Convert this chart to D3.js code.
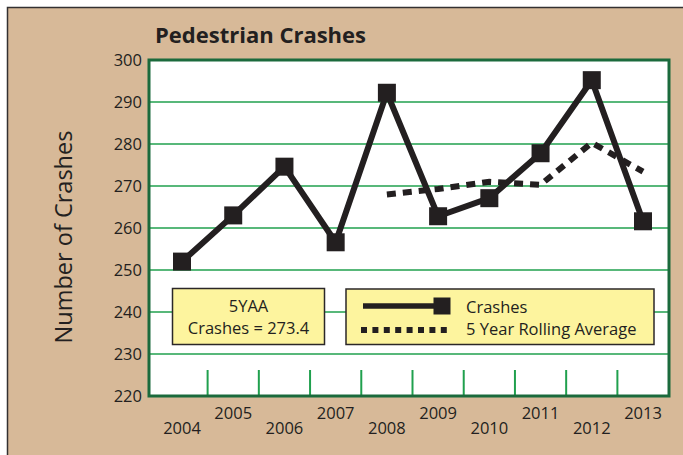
<!DOCTYPE html>
<html>
<head>
<meta charset="utf-8">
<script src="https://cdn.jsdelivr.net/npm/d3@7"></script>
<style>
  html, body { margin: 0; padding: 0; background: #ffffff; }
  svg { display: block; }
  text { font-family: "Open Sans", "Noto Sans", sans-serif; fill: #231f20; }
</style>
</head>
<body>
<svg id="chart" width="683" height="455"></svg>
<script>
// Annual pedestrian crash counts
const years = [2004, 2005, 2006, 2007, 2008, 2009, 2010, 2011, 2012, 2013];
const crashes = [252, 263, 274.6, 256.6, 292.2, 262.8, 267.1, 277.8, 295.2, 261.6];

// Five-year rolling average (from 2008 onward)
const rollingYears = [2008, 2009, 2010, 2011, 2012, 2013];
const rollingAvg = [268, 269.3, 271, 270.3, 280.3, 273.4];

// Y axis ticks
const yTicks = [220, 230, 240, 250, 260, 270, 280, 290, 300];

// Summary box text
const summaryLines = ["5YAA", "Crashes = 273.4"];
const legendLabels = ["Crashes", "5 Year Rolling Average"];

const svg = d3.select("#chart");
const W = 683, H = 455;

const plot = { left: 149, right: 669, top: 60, bottom: 396 };
const ink = "#231f20";
const gridGreen = "#20a04e";
const frameGreen = "#1b6a3c";

// Beige panel with a dark edge along top and left
svg.append("rect")
  .attr("x", 7.5).attr("y", 7.5)
  .attr("width", W + 20).attr("height", H + 20)
  .attr("fill", "#d7b998")
  .attr("stroke", "#333031").attr("stroke-width", 1.5);

// Scales
const x = d3.scaleLinear().domain([2004, 2013]).range([182, 643]);
const y = d3.scaleLinear().domain([220, 300]).range([plot.bottom, plot.top]);

// Plot background
svg.append("rect")
  .attr("x", plot.left).attr("y", plot.top)
  .attr("width", plot.right - plot.left).attr("height", plot.bottom - plot.top)
  .attr("fill", "#ffffff");

// Horizontal gridlines
svg.append("g")
  .selectAll("line")
  .data(yTicks.filter(t => t > 220 && t < 300))
  .join("line")
  .attr("x1", plot.left).attr("x2", plot.right)
  .attr("y1", d => y(d)).attr("y2", d => y(d))
  .attr("stroke", gridGreen).attr("stroke-width", 1.6);

// Category separators along the bottom
svg.append("g")
  .selectAll("line")
  .data(years.slice(0, -1))
  .join("line")
  .attr("x1", d => x(d + 0.5)).attr("x2", d => x(d + 0.5))
  .attr("y1", plot.bottom - 26).attr("y2", plot.bottom)
  .attr("stroke", gridGreen).attr("stroke-width", 2);

// Y axis labels
const yAxis = svg.append("g")
  .attr("transform", `translate(${plot.left},0)`)
  .call(d3.axisLeft(y).tickValues(yTicks).tickSize(0).tickPadding(7).tickFormat(d3.format("d")));
yAxis.select(".domain").remove();
yAxis.selectAll("text")
  .attr("font-family", "Open Sans, sans-serif")
  .attr("font-size", 16.5)
  .attr("fill", ink);

// X axis labels, staggered on two rows
svg.append("g")
  .selectAll("text")
  .data(years)
  .join("text")
  .attr("x", d => x(d))
  .attr("y", (d, i) => i % 2 === 0 ? 434 : 419)
  .attr("text-anchor", "middle")
  .attr("font-size", 16.5)
  .text(d => d);

// Summary box
const sumBox = { x: 172.5, y: 288.5, w: 152, h: 56 };
svg.append("rect")
  .attr("x", sumBox.x).attr("y", sumBox.y)
  .attr("width", sumBox.w).attr("height", sumBox.h)
  .attr("fill", "#fdf49e").attr("stroke", "#2b2728").attr("stroke-width", 1.5);
svg.append("g")
  .selectAll("text")
  .data(summaryLines)
  .join("text")
  .attr("x", sumBox.x + sumBox.w / 2)
  .attr("y", (d, i) => 312 + i * 22)
  .attr("text-anchor", "middle")
  .attr("font-size", 16.5)
  .text(d => d);

// Legend box
const legBox = { x: 346, y: 289, w: 308, h: 55.5 };
svg.append("rect")
  .attr("x", legBox.x).attr("y", legBox.y)
  .attr("width", legBox.w).attr("height", legBox.h)
  .attr("fill", "#fdf49e").attr("stroke", "#2b2728").attr("stroke-width", 1.5);
svg.append("line")
  .attr("x1", 363).attr("x2", 442).attr("y1", 306).attr("y2", 306)
  .attr("stroke", ink).attr("stroke-width", 5.5);
svg.append("rect")
  .attr("x", 442 - 8.5).attr("y", 306 - 8.5)
  .attr("width", 17).attr("height", 17)
  .attr("fill", ink);
svg.append("line")
  .attr("x1", 361).attr("x2", 447).attr("y1", 330).attr("y2", 330)
  .attr("stroke", ink).attr("stroke-width", 6)
  .attr("stroke-dasharray", "6,5.4");
svg.append("g")
  .selectAll("text")
  .data(legendLabels)
  .join("text")
  .attr("x", 466)
  .attr("y", (d, i) => 313 + i * 22)
  .attr("font-size", 16.5)
  .text(d => d);

// Rolling average (dotted)
const rollData = rollingYears.map((yr, i) => ({ year: yr, value: rollingAvg[i] }));
svg.append("path")
  .datum(rollData)
  .attr("d", d3.line().x(d => x(d.year)).y(d => y(d.value)))
  .attr("fill", "none")
  .attr("stroke", ink).attr("stroke-width", 6)
  .attr("stroke-dasharray", "9,7");

// Crash counts (solid line with square markers)
const crashData = years.map((yr, i) => ({ year: yr, value: crashes[i] }));
svg.append("path")
  .datum(crashData)
  .attr("d", d3.line().x(d => x(d.year)).y(d => y(d.value)))
  .attr("fill", "none")
  .attr("stroke", ink).attr("stroke-width", 6)
  .attr("stroke-linejoin", "miter");
svg.append("g")
  .selectAll("rect")
  .data(crashData)
  .join("rect")
  .attr("x", d => x(d.year) - 9).attr("y", d => y(d.value) - 9)
  .attr("width", 18).attr("height", 18)
  .attr("fill", ink);

// Plot frame
svg.append("rect")
  .attr("x", plot.left).attr("y", plot.top)
  .attr("width", plot.right - plot.left).attr("height", plot.bottom - plot.top)
  .attr("fill", "none")
  .attr("stroke", frameGreen).attr("stroke-width", 3);

// Title
svg.append("text")
  .attr("x", 155).attr("y", 43)
  .attr("font-size", 22).attr("font-weight", 700)
  .text("Pedestrian Crashes");

// Y axis title
svg.append("text")
  .attr("transform", `translate(72,237) rotate(-90)`)
  .attr("text-anchor", "middle")
  .attr("font-size", 23.5)
  .text("Number of Crashes");
</script>
</body>
</html>
